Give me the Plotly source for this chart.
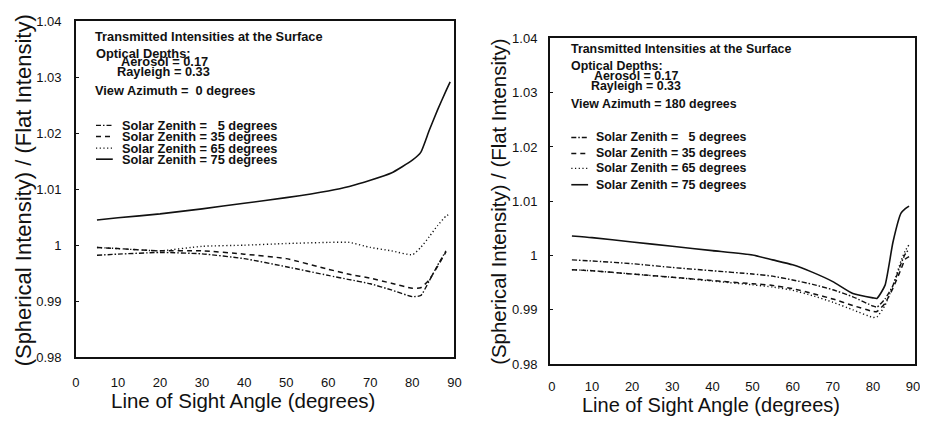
import plotly.graph_objects as go

# ---------------- data ----------------
# Left panel: view azimuth 0 degrees
ang_l_5 = [5, 10, 20, 30, 40, 50, 60, 65, 70, 75, 80, 82, 84, 86, 88]
sz5_l = [0.9982, 0.9984, 0.9987, 0.99845, 0.9976, 0.99615, 0.9946, 0.99385, 0.9931, 0.9920, 0.9908, 0.9910, 0.9936, 0.9964, 0.9990]
ang_l_35 = [5, 10, 20, 30, 40, 50, 60, 65, 70, 75, 80, 82, 84, 86, 88]
sz35_l = [0.9996, 0.9994, 0.9990, 0.9990, 0.9984, 0.9976, 0.9957, 0.9948, 0.9941, 0.9932, 0.9923, 0.9924, 0.9938, 0.9962, 0.9988]
ang_l_65 = [5, 10, 20, 30, 40, 50, 60, 65, 70, 75, 80, 82, 84, 86, 88, 89]
sz65_l = [0.9996, 0.9994, 0.9990, 0.9998, 1.0000, 1.0003, 1.0005, 1.0005, 0.9996, 0.9990, 0.9983, 0.9996, 1.0015, 1.0035, 1.0052, 1.0056]
ang_l_75 = [5, 10, 20, 30, 40, 50, 60, 65, 70, 75, 80, 82, 84, 86, 88, 89]
sz75_l = [1.0045, 1.0049, 1.0056, 1.0065, 1.0075, 1.0085, 1.0097, 1.0105, 1.0116, 1.0129, 1.0152, 1.0166, 1.0205, 1.0242, 1.0276, 1.0292]

# Right panel: view azimuth 180 degrees
ang_r = [5, 10, 20, 30, 40, 50, 55, 60, 65, 70, 75, 80, 81, 83, 85, 87, 88, 89]
sz5_r = [0.9992, 0.9990, 0.9985, 0.9978, 0.9972, 0.9966, 0.9962, 0.9955, 0.9947, 0.9937, 0.9924, 0.9907, 0.9905, 0.9920, 0.9945, 0.9985, 1.0002, 1.0012]
sz35_r = [0.9974, 0.9972, 0.9966, 0.9960, 0.9954, 0.9948, 0.9945, 0.9939, 0.9930, 0.9920, 0.9908, 0.9897, 0.9897, 0.9912, 0.9940, 0.9975, 0.9993, 0.9998]
sz65_r = [0.9974, 0.9972, 0.9966, 0.9960, 0.9953, 0.9946, 0.9942, 0.9936, 0.9926, 0.9914, 0.9900, 0.9886, 0.9887, 0.9908, 0.9945, 0.9990, 1.0008, 1.0020]
sz75_r = [1.0036, 1.0033, 1.0025, 1.0017, 1.0009, 1.0001, 0.9992, 0.9983, 0.9969, 0.9952, 0.9930, 0.9922, 0.9921, 0.9945, 1.0025, 1.0078, 1.0086, 1.0091]

x_ticks = [0, 10, 20, 30, 40, 50, 60, 70, 80, 90]
x_ticktext = ["0", "10", "20", "30", "40", "50", "60", "70", "80", "90"]
y_ticks = [0.98, 0.99, 1.0, 1.01, 1.02, 1.03, 1.04]
y_ticktext = ["0.98", "0.99", "1", "1.01", "1.02", "1.03", "1.04"]

zenith_labels = ["Solar Zenith =   5 degrees", "Solar Zenith = 35 degrees",
                 "Solar Zenith = 65 degrees", "Solar Zenith = 75 degrees"]
dashes = ["5px,2px,1.5px,2px", "5px,4px", "1.2px,2.5px", "solid"]
widths = [1.4, 1.5, 1.4, 1.6]

INK = "#111111"
FONT = "Liberation Sans, Arial, sans-serif"
W, H = 928, 421
OFF = 8  # page body margin offset

def px(x):
    return (x - OFF) / W

def py(y):
    return 1 - (y - OFF) / H

fig = go.Figure()

left_sets = [(ang_l_5, sz5_l), (ang_l_35, sz35_l), (ang_l_65, sz65_l), (ang_l_75, sz75_l)]
right_sets = [(ang_r, sz5_r), (ang_r, sz35_r), (ang_r, sz65_r), (ang_r, sz75_r)]

for i, (xs, ys) in enumerate(left_sets):
    fig.add_trace(go.Scatter(x=xs, y=ys, mode="lines", xaxis="x", yaxis="y",
                             name=zenith_labels[i], showlegend=False,
                             line=dict(color=INK, width=widths[i], dash=dashes[i], shape="spline", smoothing=0.5)))
for i, (xs, ys) in enumerate(right_sets):
    fig.add_trace(go.Scatter(x=xs, y=ys, mode="lines", xaxis="x2", yaxis="y2",
                             name=zenith_labels[i], showlegend=False,
                             line=dict(color=INK, width=widths[i], dash=dashes[i], shape="spline", smoothing=0.5)))

axis_common = dict(showgrid=False, zeroline=False, showline=True, linecolor=INK, linewidth=1.7,
                   mirror=True, tickfont=dict(family=FONT, size=13, color=INK))

fig.update_layout(
    width=W, height=H,
    margin=dict(l=0, r=0, t=0, b=0),
    paper_bgcolor="white", plot_bgcolor="white",
    xaxis=dict(domain=[px(72.7), px(455.7)], range=[0, 90], tickvals=x_ticks, ticktext=x_ticktext,
               ticks="", anchor="y", ticklabelstandoff=12, **axis_common),
    yaxis=dict(domain=[py(362.7), py(14.7)], range=[0.98, 1.04], tickvals=y_ticks, ticktext=y_ticktext,
               ticks="inside", ticklen=3, tickcolor=INK, anchor="x", ticklabelstandoff=10, **axis_common),
    xaxis2=dict(domain=[px(552.3), px(921.5)], range=[-0.5, 90.4], tickvals=x_ticks, ticktext=x_ticktext,
                ticks="", anchor="y2", ticklabelstandoff=9, **axis_common),
    yaxis2=dict(domain=[py(370), py(32.3)], range=[0.98, 1.04], tickvals=y_ticks, ticktext=y_ticktext,
                ticks="inside", ticklen=3, tickcolor=INK, anchor="x2", ticklabelstandoff=8, **axis_common),
)

ann = []
def text(x, y, s, size=12.5, anchor="left", angle=0, bold=False):
    ann.append(dict(x=px(x), y=py(y), xref="paper", yref="paper", text=("<b>%s</b>" % s) if bold else s,
                    showarrow=False, xanchor=anchor, yanchor="middle", textangle=angle,
                    font=dict(family=FONT, size=size, color=INK)))

# Axis titles
text(242, 408, "Line of Sight Angle (degrees)", size=20.5, anchor="center")
text(20, 190, "(Spherical Intensity) / (Flat Intensity)", size=22, anchor="center", angle=-90)
text(715, 412, "Line of Sight Angle (degrees)", size=20, anchor="center")
text(500, 201.5, "(Spherical Intensity) / (Flat Intensity)", size=20.4, anchor="center", angle=-90)

# Left panel info text
LS = 12.8
text(90, 30.5, "Transmitted Intensities at the Surface", size=LS, bold=True)
text(91, 48, "Optical Depths:", size=LS, bold=True)
text(116.5, 56.5, "Aerosol = 0.17", size=LS, bold=True)
text(112.5, 66.5, "Rayleigh = 0.33", size=LS, bold=True)
text(90, 86, "View Azimuth =  0 degrees", size=LS, bold=True)
# Right panel info text
RS = 12.4
text(572, 43, "Transmitted Intensities at the Surface", size=RS, bold=True)
text(572, 60.5, "Optical Depths:", size=RS, bold=True)
text(595, 71, "Aerosol = 0.17", size=RS, bold=True)
text(591.5, 82, "Rayleigh = 0.33", size=RS, bold=True)
text(572, 100.5, "View Azimuth = 180 degrees", size=RS, bold=True)

shapes = []
left_rows = [122.5, 134, 146, 157.5]
right_rows = [135, 151.5, 167, 184]
for i in range(4):
    text(117.5, left_rows[i], zenith_labels[i], size=LS, bold=True)
    shapes.append(dict(type="line", xref="paper", yref="paper",
                       x0=px(93), x1=px(110), y0=py(left_rows[i]), y1=py(left_rows[i]),
                       line=dict(color=INK, width=widths[i], dash=dashes[i])))
    text(597, right_rows[i], zenith_labels[i], size=RS, bold=True)
    shapes.append(dict(type="line", xref="paper", yref="paper",
                       x0=px(574), x1=px(591), y0=py(right_rows[i]), y1=py(right_rows[i]),
                       line=dict(color=INK, width=widths[i], dash=dashes[i])))

fig.update_layout(annotations=ann, shapes=shapes)
fig.write_html("out.html")
